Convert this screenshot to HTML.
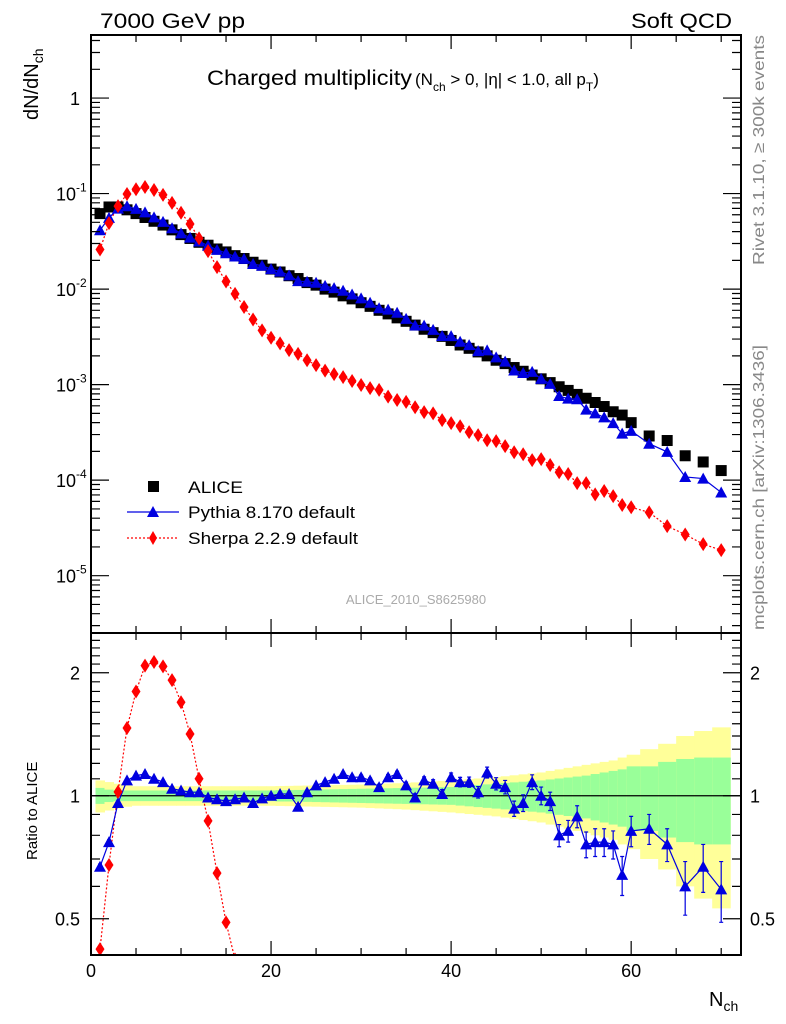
<!DOCTYPE html>
<html><head><meta charset="utf-8"><style>
html,body{margin:0;padding:0;background:#fff;overflow:hidden;width:786px;height:1024px;}
svg{display:block;font-family:"Liberation Sans",sans-serif;}
</style></head><body>
<svg id="chart" width="786" height="1024" viewBox="0 0 786 1024" xmlns="http://www.w3.org/2000/svg">
<g id="bands"></g>
<g id="grid"></g>
<g id="series"></g>
<g id="axes"></g>
<text x="100" y="28" font-size="21" textLength="145" lengthAdjust="spacingAndGlyphs">7000 GeV pp</text>
<text x="631" y="28" font-size="21" textLength="101" lengthAdjust="spacingAndGlyphs">Soft QCD</text>
<text x="207" y="85" font-size="21"><tspan textLength="205" lengthAdjust="spacingAndGlyphs">Charged multiplicity</tspan><tspan font-size="17" dx="3">(N</tspan><tspan font-size="12" dy="6">ch</tspan><tspan font-size="17" dy="-6"> &gt; 0, |η| &lt; 1.0, all p</tspan><tspan font-size="12" dy="6">T</tspan><tspan font-size="17" dy="-6">)</tspan></text>
<text transform="translate(38,120) rotate(-90)" font-size="20">dN/dN<tspan font-size="14" dy="5">ch</tspan></text>
<text transform="translate(37,860) rotate(-90)" font-size="15">Ratio to ALICE</text>
<text x="709" y="1006" font-size="20">N<tspan font-size="14" dy="5">ch</tspan></text>
<text transform="translate(764,265) rotate(-90)" font-size="16" fill="#888" textLength="230" lengthAdjust="spacingAndGlyphs">Rivet 3.1.10, ≥ 300k events</text>
<text transform="translate(764,630) rotate(-90)" font-size="16" fill="#888" textLength="285" lengthAdjust="spacingAndGlyphs">mcplots.cern.ch [arXiv:1306.3436]</text>
<text x="416" y="604" font-size="13" fill="#aaa" text-anchor="middle">ALICE_2010_S8625980</text>
<g>
<rect x="148" y="481" width="11" height="11" fill="#000"/>
<text x="188" y="493" font-size="17" textLength="55" lengthAdjust="spacingAndGlyphs">ALICE</text>
<line x1="127" y1="512" x2="179" y2="512" stroke="#0000e0" stroke-width="1.2"/>
<polygon points="153,506 147,517 159,517" fill="#0000e0"/>
<text x="188" y="518" font-size="17" textLength="167" lengthAdjust="spacingAndGlyphs">Pythia 8.170 default</text>
<line x1="127" y1="538" x2="179" y2="538" stroke="#f00" stroke-width="1.2" stroke-dasharray="2,2"/>
<polygon points="153,531 157,538 153,545 149,538" fill="#f00"/>
<text x="188" y="544" font-size="17" textLength="170" lengthAdjust="spacingAndGlyphs">Sherpa 2.2.9 default</text>
</g>
</svg>
<script>
const nch = [1,2,3,4,5,6,7,8,9,10,11,12,13,14,15,16,17,18,19,20,21,22,23,24,25,26,27,28,29,30,31,32,33,34,35,36,37,38,39,40,41,42,43,44,45,46,47,48,49,50,51,52,53,54,55,56,57,58,59,60,62,64,66,68,70];
const alice = [0.0617,0.0724,0.0724,0.0676,0.0617,0.0562,0.0513,0.0468,0.0417,0.0372,0.0339,0.0309,0.0288,0.0263,0.0245,0.0224,0.0209,0.0191,0.0178,0.0162,0.0151,0.0138,0.0129,0.0117,0.011,0.01,0.0093,0.0085,0.0079,0.0072,0.0066,0.006,0.0055,0.005,0.0046,0.0042,0.0038,0.0035,0.0032,0.0029,0.0026,0.0024,0.0022,0.002,0.0018,0.00166,0.00151,0.00138,0.00126,0.00115,0.00105,0.00095,0.00087,0.00079,0.00072,0.00065,0.00059,0.00052,0.00048,0.0004,0.00029,0.00026,0.00018,0.000155,0.000126];
const aliceErrInner = [0.045,0.035,0.03,0.03,0.03,0.03,0.03,0.03,0.03,0.03,0.03,0.03,0.03,0.03,0.03,0.03,0.03,0.03,0.03,0.03,0.032,0.032,0.033,0.034,0.035,0.036,0.037,0.038,0.039,0.04,0.041,0.042,0.043,0.044,0.045,0.046,0.047,0.048,0.049,0.05,0.054,0.058,0.062,0.066,0.07,0.074,0.078,0.082,0.086,0.09,0.096,0.102,0.108,0.114,0.12,0.13,0.14,0.15,0.16,0.18,0.18,0.21,0.23,0.24,0.24];
const aliceErrOuter = [0.09,0.08,0.07,0.06,0.055,0.055,0.055,0.055,0.055,0.055,0.055,0.055,0.055,0.055,0.055,0.055,0.055,0.055,0.055,0.055,0.056,0.057,0.058,0.059,0.06,0.061,0.062,0.063,0.064,0.065,0.067,0.069,0.071,0.073,0.075,0.078,0.081,0.084,0.087,0.09,0.094,0.098,0.102,0.106,0.11,0.116,0.122,0.128,0.134,0.14,0.15,0.16,0.17,0.18,0.19,0.2,0.21,0.22,0.24,0.26,0.3,0.34,0.4,0.44,0.47];
const pythiaRatio = [0.67,0.77,0.96,1.09,1.12,1.13,1.10,1.08,1.04,1.03,1.02,1.02,0.99,0.98,0.97,0.98,0.99,0.96,0.985,1.0,1.01,1.01,0.94,1.02,1.06,1.08,1.10,1.13,1.11,1.11,1.09,1.05,1.11,1.13,1.06,0.99,1.09,1.07,1.01,1.11,1.08,1.08,1.02,1.14,1.07,1.05,0.93,0.96,1.08,1.0,0.97,0.80,0.82,0.89,0.76,0.77,0.77,0.76,0.64,0.82,0.83,0.76,0.60,0.67,0.59];
const pythiaErr = [0.01,0.01,0.01,0.01,0.01,0.01,0.01,0.01,0.01,0.01,0.01,0.01,0.01,0.01,0.01,0.01,0.01,0.01,0.01,0.01,0.01,0.01,0.01,0.01,0.01,0.01,0.012,0.012,0.013,0.014,0.015,0.016,0.017,0.018,0.02,0.021,0.022,0.024,0.025,0.027,0.029,0.031,0.033,0.035,0.037,0.04,0.04,0.045,0.045,0.05,0.05,0.05,0.05,0.055,0.055,0.06,0.06,0.06,0.07,0.07,0.07,0.07,0.09,0.09,0.1];
const sherpa = [0.026,0.049,0.074,0.099,0.111,0.117,0.109,0.097,0.08,0.063,0.048,0.034,0.025,0.017,0.012,0.0089,0.0065,0.0048,0.0037,0.0031,0.0027,0.0023,0.0021,0.0018,0.0016,0.0014,0.00129,0.0012,0.00109,0.00099,0.00092,0.00088,0.00075,0.00069,0.00066,0.00058,0.000515,0.0005,0.000425,0.000395,0.000367,0.000318,0.000296,0.000262,0.000256,0.000227,0.000196,0.000187,0.000162,0.000166,0.000144,0.000121,0.000116,0.000093,0.000093,0.000071,0.000077,0.000068,0.000055,0.000052,0.000046,0.000033,0.000027,0.0000214,0.0000185];
const xTicks = [0,20,40,60];
const mainYTicks = [0,-1,-2,-3,-4,-5];
const ratioYTicks = [0.5,1,2];

const NS='http://www.w3.org/2000/svg';
const L=91,R=741,T=35,MB=633,RB=955;
const X0=0,X1=72.2;
const MTOP=0.66,MBOT=-5.60;
const RTOP=1.323,RBOT=-1.295;
function xs(v){return L+(v-X0)/(X1-X0)*(R-L);}
function ym(v){return T+(MTOP-Math.log10(v))/(MTOP-MBOT)*(MB-T);}
function yr(v){return MB+(RTOP-Math.log2(v))/(RTOP-RBOT)*(RB-MB);}
function mk(tag,attrs,parent){const e=document.createElementNS(NS,tag);for(const k in attrs)e.setAttribute(k,attrs[k]);parent.appendChild(e);return e;}
const gB=document.getElementById('bands'),gS=document.getElementById('series'),gA=document.getElementById('axes');

const defs=mk('defs',{},document.getElementById('chart'));
const c1=mk('clipPath',{id:'cm'},defs);mk('rect',{x:L,y:T,width:R-L,height:MB-T},c1);
const c2=mk('clipPath',{id:'cr'},defs);mk('rect',{x:L,y:MB,width:R-L,height:RB-MB},c2);
gB.setAttribute('clip-path','url(#cr)');

function bandEdges(i){const lo=i===0?nch[0]-0.5:(nch[i-1]+nch[i])/2;const hi=i===nch.length-1?nch[i]+1:(nch[i]+nch[i+1])/2;return [lo,hi];}
for(let i=0;i<nch.length;i++){
  const [a,b]=bandEdges(i);
  const r1=mk('rect',{x:xs(a),y:yr(1+aliceErrOuter[i]),width:xs(b)-xs(a)+0.5,height:yr(Math.max(0.3,1-aliceErrOuter[i]))-yr(1+aliceErrOuter[i]),fill:'#ffff99'},gB);
  
  
  const r2=mk('rect',{x:xs(a),y:yr(1+aliceErrInner[i]),width:xs(b)-xs(a)+0.5,height:yr(1-aliceErrInner[i])-yr(1+aliceErrInner[i]),fill:'#99ff99'},gB);
  
  
}
mk('line',{x1:L,y1:yr(1),x2:R,y2:yr(1),stroke:'#000','stroke-width':1.2},gB);

const gm=mk('g',{'clip-path':'url(#cm)'},gS);
const gr=mk('g',{'clip-path':'url(#cr)'},gS);
function tri(g,x,y,col,name){const p=mk('polygon',{points:`${x},${y-6} ${x-6},${y+5} ${x+6},${y+5}`,fill:col},g);}
function dia(g,x,y,name){const p=mk('polygon',{points:`${x},${y-7} ${x+4.5},${y} ${x},${y+7} ${x-4.5},${y}`,fill:'#f00'},g);}
let ps='',pr='',py='',pyr='';
nch.forEach((n,i)=>{
  ps+=`${xs(n)},${ym(sherpa[i])} `;
  pr+=`${xs(n)},${yr(sherpa[i]/alice[i])} `;
  py+=`${xs(n)},${ym(alice[i]*pythiaRatio[i])} `;
  pyr+=`${xs(n)},${yr(pythiaRatio[i])} `;
});
const l1=mk('polyline',{points:ps,fill:'none',stroke:'#f00','stroke-width':1.2,'stroke-dasharray':'2,2'},gm);


const l2=mk('polyline',{points:pr,fill:'none',stroke:'#f00','stroke-width':1.2,'stroke-dasharray':'2,2'},gr);


nch.forEach((n,i)=>{
  const s=mk('rect',{x:xs(n)-5.5,y:ym(alice[i])-5.5,width:11,height:11,fill:'#000'},gm);
  
  
});
const l3=mk('polyline',{points:py,fill:'none',stroke:'#0000e0','stroke-width':1.2},gm);


const l4=mk('polyline',{points:pyr,fill:'none',stroke:'#0000e0','stroke-width':1.2},gr);


nch.forEach((n,i)=>{
  const x=xs(n);
  tri(gm,x,ym(alice[i]*pythiaRatio[i]),'#0000e0','pythia-point');
  const r=pythiaRatio[i],e=pythiaErr[i];
  const y1=yr(r+e),y2=yr(r-e);
  const eb=mk('path',{d:`M${x},${y1}V${y2}M${x-2},${y1}H${x+2}M${x-2},${y2}H${x+2}`,stroke:'#0000e0','stroke-width':1.2,fill:'none'},gr);
  
  
  tri(gr,x,yr(r),'#0000e0','pythia-ratio-point');
});
nch.forEach((n,i)=>{
  dia(gm,xs(n),ym(sherpa[i]),'sherpa-point');
  dia(gr,xs(n),yr(sherpa[i]/alice[i]),'sherpa-ratio-point');
});

const fr1=mk('rect',{x:L,y:T,width:R-L,height:MB-T,fill:'none',stroke:'#000','stroke-width':2},gA);


const fr2=mk('rect',{x:L,y:MB,width:R-L,height:RB-MB,fill:'none',stroke:'#000','stroke-width':2},gA);


let d='';
for(let v=0;v<=70;v+=5){const x=xs(v);const len=v%20===0?14:7;
  d+=`M${x},${T}v${len}M${x},${MB}v${-len}M${x},${MB}v${len}M${x},${RB}v${-len}`;}
for(let e=-6;e<=0;e++){for(let m=1;m<10;m++){const v=m*Math.pow(10,e);const y=ym(v);if(y<T||y>MB)continue;const len=m===1?18:9;d+=`M${L},${y}h${len}M${R},${y}h${-len}`;}}
for(let v=0.4;v<=2.55;v+=0.1){const y=yr(v);if(y<MB||y>RB)continue;const major=Math.abs(v-1)<0.01||Math.abs(v-2)<0.01||Math.abs(v-0.5)<0.01;const len=major?18:9;d+=`M${L},${y}h${len}M${R},${y}h${-len}`;}
mk('path',{d:d,stroke:'#000','stroke-width':1.2,fill:'none'},gA);
xTicks.forEach(v=>{const t=mk('text',{x:xs(v),y:977,'font-size':18,'text-anchor':'middle'},gA);t.textContent=v;
  
  });
mainYTicks.forEach(e=>{const y=ym(Math.pow(10,e));const t=mk('text',{x:e===0?80:56,y:y+7,'font-size':18,'text-anchor':e===0?'end':'start'},gA);
  if(e===0)t.textContent='1';else{t.textContent='10';const s=mk('tspan',{'font-size':12,dy:-9},t);s.textContent=String(e);}
  
  });
ratioYTicks.forEach(v=>{const y=yr(v)+7;
  const t=mk('text',{x:80,y:y,'font-size':18,'text-anchor':'end'},gA);t.textContent=v;
  
  
  const t2=mk('text',{x:750,y:y,'font-size':18},gA);t2.textContent=v;
  
  });
</script>
</body></html>
